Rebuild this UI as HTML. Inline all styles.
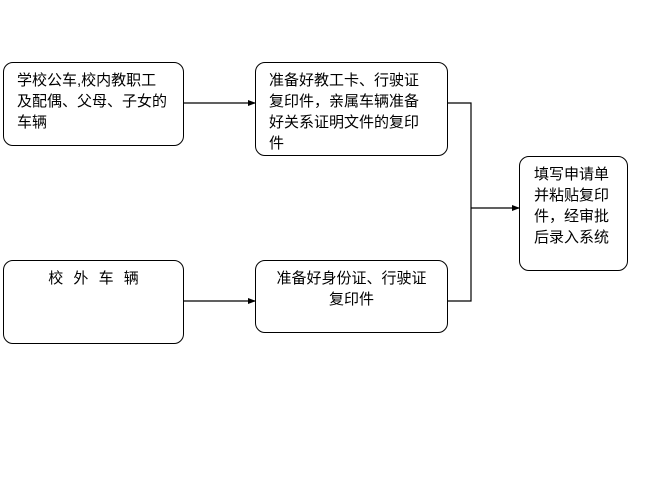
<!DOCTYPE html>
<html><head><meta charset="utf-8"><style>
body{margin:0;width:663px;height:478px;background:#fff;overflow:hidden;position:relative;font-family:"Liberation Sans","Noto Sans CJK SC","WenQuanYi Zen Hei",sans-serif;}
.b{position:absolute;border:1px solid #000;border-radius:10px;box-sizing:border-box;font-size:15px;line-height:21px;color:#000;}
svg{position:absolute;left:0;top:0}
</style></head><body>
<svg width="663" height="478">
<defs><marker id="a" markerWidth="8" markerHeight="8" refX="7" refY="4" orient="auto" markerUnits="userSpaceOnUse"><path d="M0,1 L8,4 L0,7z" fill="#000"/></marker></defs>
<g stroke="#000" stroke-width="1.2" fill="none">
<line x1="183" y1="103" x2="255" y2="103" marker-end="url(#a)"/>
<line x1="183" y1="301" x2="255" y2="301" marker-end="url(#a)"/>
<polyline points="447,103 471,103 471,301 447,301"/>
<line x1="471" y1="208" x2="519" y2="208" marker-end="url(#a)"/>
</g></svg>
<div class="b" style="left:3px;top:62px;width:181px;height:84px;padding:7px 0 0 13px">学校公车,校内教职工<br>及配偶、父母、子女的<br>车辆</div>
<div class="b" style="left:255px;top:62px;width:193px;height:94px;padding:7px 0 0 13px">准备好教工卡、行驶证<br>复印件，亲属车辆准备<br>好关系证明文件的复印<br>件</div>
<div class="b" style="left:519px;top:156px;width:109px;height:115px;padding:7px 0 0 14px">填写申请单<br>并粘贴复印<br>件，经审批<br>后录入系统</div>
<div class="b" style="left:3px;top:260px;width:181px;height:84px;padding:7px 0 0 0;text-align:center;word-spacing:6px">校 外 车 辆</div>
<div class="b" style="left:255px;top:260px;width:193px;height:73px;padding:7px 0 0 0;text-align:center">准备好身份证、行驶证<br>复印件</div>
</body></html>
